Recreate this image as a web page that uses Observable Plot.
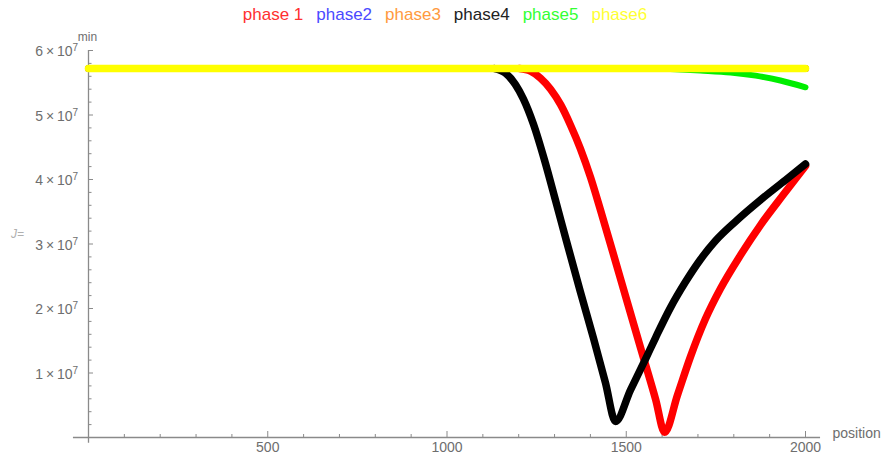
<!DOCTYPE html>
<html>
<head>
<meta charset="utf-8">
<script src="https://cdn.jsdelivr.net/npm/d3@7"></script>
<script src="https://cdn.jsdelivr.net/npm/@observablehq/plot@0.6"></script>
<style>
  body { margin: 0; background: #fff; font-family: "Liberation Sans", Arial, sans-serif; }
  #wrap { position: relative; width: 882px; height: 457px; }
  #legend {
    position: absolute; left: 0; top: 0; width: 882px; height: 30px;
    display: flex; justify-content: center; align-items: center; gap: 13px;
    font-size: 17px; padding-left: 8px; box-sizing: border-box;
  }
</style>
</head>
<body>
<div id="wrap"><div id="legend"></div></div>
<script>
// Series names and colours
const phaseNames = ["phase 1", "phase2", "phase3", "phase4", "phase5", "phase6"];
const phaseColors = ["#ff0000", "#0000ff", "#ff8000", "#000000", "#00ee00", "#ffff00"];
const legendColors = ["#ff3030", "#4a4aff", "#ff9a40", "#222222", "#33ff33", "#ffff33"];

// phase 1 (red): leaves the plateau, dips to its minimum near 1600, climbs back
const phase1Position = [1202, 1233, 1261, 1289, 1317, 1344, 1372, 1400, 1428, 1484, 1540, 1582, 1607, 1643, 1679, 1721, 1763, 1819, 1874, 1939, 2000];
const phase1Min = [5.72e7, 5.68e7, 5.57e7, 5.40e7, 5.16e7, 4.85e7, 4.48e7, 4.04e7, 3.53e7, 2.46e7, 1.39e7, 0.59e7, 0.08e7, 0.66e7, 1.25e7, 1.84e7, 2.31e7, 2.83e7, 3.29e7, 3.77e7, 4.21e7];

// phase2 and phase3 stay on the common plateau
const phase2Position = [0, 2000];
const phase2Min = [5.72e7, 5.72e7];
const phase3Position = [0, 2000];
const phase3Min = [5.72e7, 5.72e7];

// phase4 (black): leaves the plateau first, minimum near 1470
const phase4Position = [1133, 1163, 1191, 1213, 1241, 1272, 1303, 1333, 1372, 1409, 1442, 1470, 1512, 1554, 1582, 1623, 1665, 1707, 1749, 1805, 1874, 1944, 2000];
const phase4Min = [5.72e7, 5.65e7, 5.47e7, 5.25e7, 4.86e7, 4.30e7, 3.67e7, 3.05e7, 2.26e7, 1.53e7, 0.85e7, 0.25e7, 0.74e7, 1.22e7, 1.55e7, 2.01e7, 2.41e7, 2.76e7, 3.05e7, 3.35e7, 3.68e7, 3.99e7, 4.24e7];

// phase5 (green)
const phase5Position = [1596, 1707, 1791, 1861, 1930, 2000];
const phase5Min = [5.72e7, 5.69e7, 5.66e7, 5.61e7, 5.535e7, 5.43e7];

// phase6 (yellow)
const phase6Position = [0, 2000];
const phase6Min = [5.72e7, 5.72e7];

// Axis ticks and labels
const xMajorTicks = [500, 1000, 1500, 2000];
const xMinorTicks = d3.range(100, 2001, 100).filter(d => d % 500 !== 0);
const yMajorTicks = [1e7, 2e7, 3e7, 4e7, 5e7, 6e7];
const yMinorTicks = d3.range(2, 60, 2).filter(d => d % 10 !== 0).map(d => d * 1e6);
const yExponent = "7";

const positions = [phase1Position, phase2Position, phase3Position, phase4Position, phase5Position, phase6Position];
const mins = [phase1Min, phase2Min, phase3Min, phase4Min, phase5Min, phase6Min];
const lineWidths = [7.5, 7, 7, 7.5, 6, 7.5];

const series = phaseNames.map((name, i) =>
  positions[i].map((p, j) => ({phase: name, position: p, min: mins[i][j]}))
);

// Legend row
const legend = document.getElementById("legend");
phaseNames.forEach((name, i) => {
  const s = document.createElement("span");
  s.textContent = name;
  s.style.color = legendColors[i];
  legend.appendChild(s);
});

const axisGray = "#8a8a8a";
const textGray = "#6e6e6e";

const chart = Plot.plot({
  width: 882,
  height: 457,
  marginTop: 50,
  marginBottom: 20,
  marginLeft: 88,
  marginRight: 77,
  style: {overflow: "visible", background: "transparent", fontFamily: "'Liberation Sans', Arial, sans-serif"},
  x: {domain: [0, 2000], axis: null},
  y: {domain: [0, 6e7], axis: null},
  marks: [
    // axis lines crossing at the origin
    Plot.ruleY([0], {x1: -42, x2: 2042, stroke: axisGray, strokeWidth: 1.3}),
    Plot.ruleX([0], {y1: -0.09e7, y2: 6e7, stroke: axisGray, strokeWidth: 1.3}),
    // inward ticks
    Plot.axisX(xMinorTicks, {tickSize: -3, tickFormat: () => "", label: null, stroke: axisGray}),
    Plot.axisX(xMajorTicks, {tickSize: -6, tickPadding: 11, tickFormat: d => String(d), label: null, stroke: axisGray, fill: textGray, fontSize: 14}),
    Plot.axisY(yMinorTicks, {tickSize: -3.5, tickFormat: () => "", label: null, stroke: axisGray}),
    Plot.axisY(yMajorTicks, {tickSize: -5, tickFormat: () => "", label: null, stroke: axisGray}),
    // y tick labels in the form a×10^7
    Plot.text(yMajorTicks, {x: 0, y: d => d, text: d => `${d / 1e7}\u2009×\u200910`, textAnchor: "end", dx: -16, dy: 1.5, fill: textGray, fontSize: 14}),
    Plot.text(yMajorTicks, {x: 0, y: d => d, text: () => yExponent, textAnchor: "start", dx: -16, dy: -2.5, fill: textGray, fontSize: 10}),
    // axis labels
    Plot.text(["position"], {frameAnchor: "bottom-right", textAnchor: "start", dx: 27, fill: textGray, fontSize: 14}),
    Plot.text(["min"], {frameAnchor: "top-left", textAnchor: "middle", dx: -1, dy: -18, fill: textGray, fontSize: 12}),
    Plot.text(["J="], {frameAnchor: "left", textAnchor: "middle", dx: -71, dy: -10, fill: "#b0b0b0", fontSize: 12, fontStyle: "italic"}),
    // the six phase curves
    ...series.map((data, i) => Plot.line(data, {
      x: "position", y: "min",
      stroke: phaseColors[i], strokeWidth: lineWidths[i],
      strokeLinecap: "round", strokeLinejoin: "round",
      curve: "monotone-x"
    }))
  ]
});

document.getElementById("wrap").appendChild(chart);
</script>
</body>
</html>
